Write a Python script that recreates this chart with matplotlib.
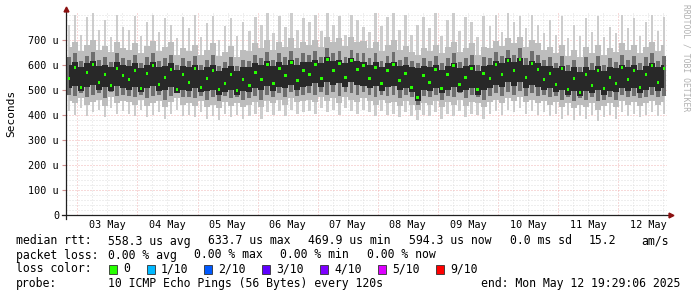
import numpy as np
import matplotlib
matplotlib.use("Agg")
import matplotlib.pyplot as plt
import matplotlib.dates as mdates
from matplotlib.patches import Rectangle
from matplotlib.transforms import blended_transform_factory

# 100 samples, one every 2.4 h, from 2025-05-02 19:29:06 to 2025-05-12 19:29:06 (values in microseconds)
rtt_median = [545, 590, 510, 570, 600, 530, 560, 515, 585, 555,
              540, 575, 505, 565, 595, 520, 550, 580, 500, 560,
              530, 585, 510, 545, 575, 500, 525, 560, 495, 540,
              515, 570, 540, 600, 525, 585, 555, 610, 535, 575,
              560, 600, 545, 620, 575, 605, 550, 615, 580, 595,
              545, 590, 525, 575, 600, 535, 565, 510, 470, 555,
              530, 580, 505, 560, 595, 520, 550, 585, 500, 565,
              545, 600, 560, 615, 575, 620, 550, 605, 580, 540,
              565, 520, 585, 500, 545, 490, 560, 515, 575, 505,
              550, 525, 590, 540, 575, 510, 560, 595, 530, 585]
rtt_q1 = [505, 515, 495, 510, 520, 500, 510, 495, 515, 505,
          500, 510, 490, 505, 515, 495, 500, 510, 485, 500,
          495, 505, 490, 495, 500, 480, 490, 500, 480, 495,
          490, 505, 500, 515, 495, 510, 505, 520, 500, 510,
          515, 525, 510, 530, 520, 525, 510, 530, 520, 515,
          505, 515, 495, 510, 515, 500, 505, 490, 455, 500,
          495, 505, 485, 500, 510, 490, 500, 505, 480, 500,
          505, 520, 510, 530, 515, 530, 505, 520, 510, 500,
          505, 490, 500, 480, 495, 475, 495, 485, 500, 480,
          495, 490, 505, 495, 505, 485, 500, 510, 495, 505]
rtt_q3 = [600, 610, 590, 605, 615, 595, 600, 590, 610, 600,
          595, 605, 585, 600, 610, 590, 595, 605, 580, 595,
          590, 600, 580, 590, 600, 575, 585, 595, 575, 590,
          590, 605, 600, 615, 595, 610, 600, 620, 600, 610,
          610, 620, 605, 630, 615, 620, 605, 625, 615, 610,
          600, 610, 590, 605, 610, 595, 600, 590, 585, 595,
          590, 600, 580, 595, 605, 585, 595, 600, 575, 595,
          600, 615, 605, 625, 610, 625, 600, 615, 605, 595,
          595, 585, 595, 575, 590, 570, 590, 580, 595, 575,
          590, 585, 600, 590, 600, 580, 595, 605, 590, 600]
rtt_mid_lo = [480, 475, 485, 470, 480, 485, 465, 490, 475, 480,
              475, 470, 480, 465, 475, 480, 460, 475, 485, 470,
              470, 465, 475, 460, 470, 455, 475, 465, 470, 460,
              465, 475, 460, 480, 470, 485, 470, 490, 475, 480,
              485, 480, 490, 480, 490, 475, 490, 485, 480, 490,
              480, 470, 480, 475, 480, 465, 480, 470, 440, 475,
              470, 480, 460, 475, 470, 485, 465, 480, 470, 460,
              475, 485, 475, 490, 480, 495, 475, 485, 475, 480,
              470, 475, 460, 470, 455, 465, 460, 470, 455, 460,
              470, 460, 480, 470, 475, 465, 470, 480, 470, 475]
rtt_mid_hi = [630, 645, 615, 635, 650, 620, 630, 610, 645, 625,
              620, 640, 605, 630, 645, 615, 625, 640, 600, 625,
              615, 635, 600, 620, 640, 595, 610, 630, 595, 620,
              615, 640, 625, 650, 620, 645, 630, 655, 625, 645,
              640, 655, 630, 665, 645, 655, 630, 660, 645, 645,
              625, 645, 615, 635, 650, 620, 630, 615, 605, 625,
              615, 635, 605, 625, 645, 610, 625, 640, 600, 630,
              625, 650, 635, 660, 640, 665, 625, 655, 640, 620,
              630, 605, 635, 600, 620, 590, 630, 605, 635, 600,
              625, 610, 640, 620, 635, 605, 630, 645, 615, 635]
rtt_hi = [670, 690, 655, 680, 700, 660, 675, 650, 690, 665,
          660, 685, 645, 675, 695, 655, 670, 690, 640, 665,
          655, 680, 640, 660, 685, 635, 650, 675, 630, 660,
          655, 685, 665, 700, 660, 690, 670, 705, 665, 690,
          680, 700, 670, 710, 690, 705, 675, 710, 690, 695,
          665, 690, 655, 680, 700, 660, 675, 650, 640, 665,
          655, 680, 645, 670, 690, 650, 665, 685, 640, 670,
          665, 695, 675, 705, 685, 710, 670, 700, 685, 660,
          670, 645, 680, 635, 660, 630, 670, 645, 680, 640,
          665, 650, 685, 660, 680, 645, 670, 690, 655, 680]
rtt_lo = [455, 445, 465, 440, 450, 460, 435, 470, 445, 455,
          450, 440, 460, 435, 445, 455, 430, 450, 465, 440,
          445, 435, 455, 430, 440, 425, 450, 435, 445, 430,
          440, 450, 430, 455, 445, 460, 440, 465, 450, 455,
          460, 450, 470, 455, 465, 445, 470, 460, 450, 465,
          455, 440, 460, 445, 450, 435, 455, 440, 420, 445,
          440, 455, 430, 450, 440, 460, 435, 450, 445, 430,
          450, 460, 445, 465, 455, 470, 450, 460, 445, 455,
          440, 450, 430, 445, 425, 440, 430, 445, 420, 435,
          445, 430, 455, 440, 450, 435, 445, 455, 440, 450]
rtt_min = [415, 400, 425, 395, 410, 420, 390, 425, 405, 415,
           405, 395, 420, 390, 400, 410, 385, 405, 420, 395,
           400, 390, 410, 385, 395, 380, 405, 390, 400, 385,
           395, 405, 385, 410, 400, 415, 395, 420, 405, 410,
           415, 405, 425, 410, 420, 400, 425, 415, 405, 420,
           410, 395, 415, 400, 405, 390, 410, 395, 380, 400,
           395, 410, 385, 405, 395, 415, 390, 405, 400, 385,
           405, 415, 400, 420, 410, 425, 405, 415, 400, 410,
           395, 405, 385, 400, 380, 395, 385, 400, 375, 390,
           400, 385, 410, 395, 405, 390, 400, 410, 395, 405]
rtt_max = [760, 800, 720, 790, 805, 740, 780, 710, 800, 750,
           740, 795, 715, 770, 800, 730, 785, 760, 705, 790,
           745, 800, 710, 765, 795, 700, 755, 785, 715, 770,
           735, 790, 760, 805, 725, 795, 750, 805, 740, 785,
           770, 800, 735, 805, 760, 795, 720, 800, 780, 750,
           730, 805, 755, 790, 805, 740, 800, 720, 760, 790,
           745, 805, 715, 780, 805, 735, 790, 770, 710, 795,
           755, 800, 730, 805, 770, 795, 745, 800, 760, 725,
           780, 720, 795, 705, 760, 715, 785, 730, 795, 710,
           750, 725, 800, 745, 785, 715, 770, 800, 735, 790]

day_labels = ["03 May", "04 May", "05 May", "06 May", "07 May",
              "08 May", "09 May", "10 May", "11 May", "12 May"]
y_ticks = [0, 100, 200, 300, 400, 500, 600, 700]
y_tick_labels = ["0", "100 u", "200 u", "300 u", "400 u", "500 u", "600 u", "700 u"]
loss_labels = ["0", "1/10", "2/10", "3/10", "4/10", "5/10", "9/10"]
loss_colors = ["#26ff00", "#00b8ff", "#0059ff", "#5e00ff", "#7e00ff", "#dd00ff", "#ff0000"]

mono = "DejaVu Sans Mono"
t_start = np.datetime64("2025-05-02T19:29:06")
t_end = np.datetime64("2025-05-12T19:29:06")
step = (t_end - t_start) / len(rtt_median)
t = mdates.date2num(t_start + step / 2 + step * np.arange(len(rtt_median)))
w = mdates.date2num(t_start + step) - mdates.date2num(t_start)

fig = plt.figure(figsize=(6.97, 2.97), dpi=100)
fig.patch.set_facecolor("white")
ax = fig.add_axes([66 / 697, 82 / 297, 601 / 697, 203 / 297])
ax.set_xlim(mdates.date2num(t_start), mdates.date2num(t_end))
ax.set_ylim(0, 810)

# smoke
ax.bar(t, np.array(rtt_max) - np.array(rtt_min), bottom=rtt_min, width=w * 0.4,
       color="#cdcdcd", linewidth=0, zorder=2)
ax.fill_between(t, rtt_lo, rtt_hi, step="mid", color="#bdbdbd", linewidth=0, zorder=3)
ax.bar(t, np.array(rtt_mid_hi) - np.array(rtt_mid_lo), bottom=rtt_mid_lo, width=w * 0.65,
       color="#6e6e6e", linewidth=0, zorder=4)
ax.fill_between(t, rtt_q1, rtt_q3, step="mid", color="#282828", linewidth=0, zorder=5)
# median
ax.bar(t, 12, bottom=np.array(rtt_median) - 6, width=w * 0.4,
       color=loss_colors[0], linewidth=0, zorder=6)

# grid
ax.set_yticks(y_ticks)
ax.set_yticklabels(y_tick_labels, fontfamily=mono, fontsize=7.3)
ax.set_yticks(np.arange(0, 810, 20), minor=True)
ax.xaxis.set_major_locator(mdates.DayLocator())
ax.xaxis.set_minor_locator(mdates.HourLocator(byhour=[6, 12, 18]))
ax.set_xticklabels([])
ax.tick_params(axis="x", which="both", length=0)
ax.tick_params(axis="y", which="major", length=3, color="#d09090", pad=2)
ax.tick_params(axis="y", which="minor", length=0)
ax.grid(True, which="major", color="#f0b4b4", linestyle=(0, (1, 2)), linewidth=0.72, zorder=0)
ax.grid(True, which="minor", color="#dedede", linestyle=(0, (1, 2)), linewidth=0.72, zorder=0)
ax.set_axisbelow(True)
for s in ax.spines.values():
    s.set_visible(False)

# axes with arrows
ax.plot([-4 / 601, 1 + 3 / 601], [0, 0], color="#202020", lw=0.9,
        transform=ax.transAxes, clip_on=False, zorder=7)
ax.plot([0, 0], [-4 / 203, 1 + 1 / 203], color="#202020", lw=0.9,
        transform=ax.transAxes, clip_on=False, zorder=7)
ax.plot([1 + 4 / 601], [0], marker=">", color="#8b1010", markersize=3.5,
        transform=ax.transAxes, clip_on=False, zorder=8)
ax.plot([0], [1 + 3 / 203], marker="^", color="#8b1010", markersize=3.5,
        transform=ax.transAxes, clip_on=False, zorder=8)

trans = blended_transform_factory(ax.transData, ax.transAxes)
for k, lab in enumerate(day_labels):
    noon = mdates.date2num(np.datetime64("2025-05-03T12:00") + np.timedelta64(k, "D"))
    ax.text(noon, -10 / 203, lab, transform=trans, ha="center", va="center",
            fontfamily=mono, fontsize=7.3)

fig.text(11 / 697, 1 - 113 / 297, "Seconds", rotation=90, ha="center", va="center",
         fontfamily=mono, fontsize=8)
fig.text(686 / 697, 1 - 4 / 297, "RRDTOOL / TOBI OETIKER", rotation=270, ha="center",
         va="top", fontfamily=mono, fontsize=5.8, color="#b0b0b0")

def txt(x, y, s):
    fig.text(x / 697, 1 - y / 297, s, ha="left", va="center", fontfamily=mono, fontsize=8.3)

txt(16, 241, "median rtt:")
txt(108, 241, "558.3 us avg")
txt(208, 241, "633.7 us max")
txt(308, 241, "469.9 us min")
txt(409, 241, "594.3 us now")
txt(510, 241, "0.0 ms sd")
txt(589, 241, "15.2")
txt(641, 241, "am/s")
txt(16, 255, "packet loss:")
txt(108, 255, "0.00 % avg")
txt(194, 255, "0.00 % max")
txt(280, 255, "0.00 % min")
txt(367, 255, "0.00 % now")
txt(16, 269, "loss color:")
box_x = [109, 147, 204, 262, 320, 378, 436]
for bx, lab, col in zip(box_x, loss_labels, loss_colors):
    fig.add_artist(Rectangle((bx / 697, 1 - 274 / 297), 8 / 697, 9 / 297, facecolor=col,
                             edgecolor="#303030", linewidth=0.6, transform=fig.transFigure))
    txt(bx + 14, 269, lab)
txt(16, 283, "probe:")
txt(108, 283, "10 ICMP Echo Pings (56 Bytes) every 120s")
txt(481, 283, "end: Mon May 12 19:29:06 2025")

fig.savefig("out.png", dpi=100)
